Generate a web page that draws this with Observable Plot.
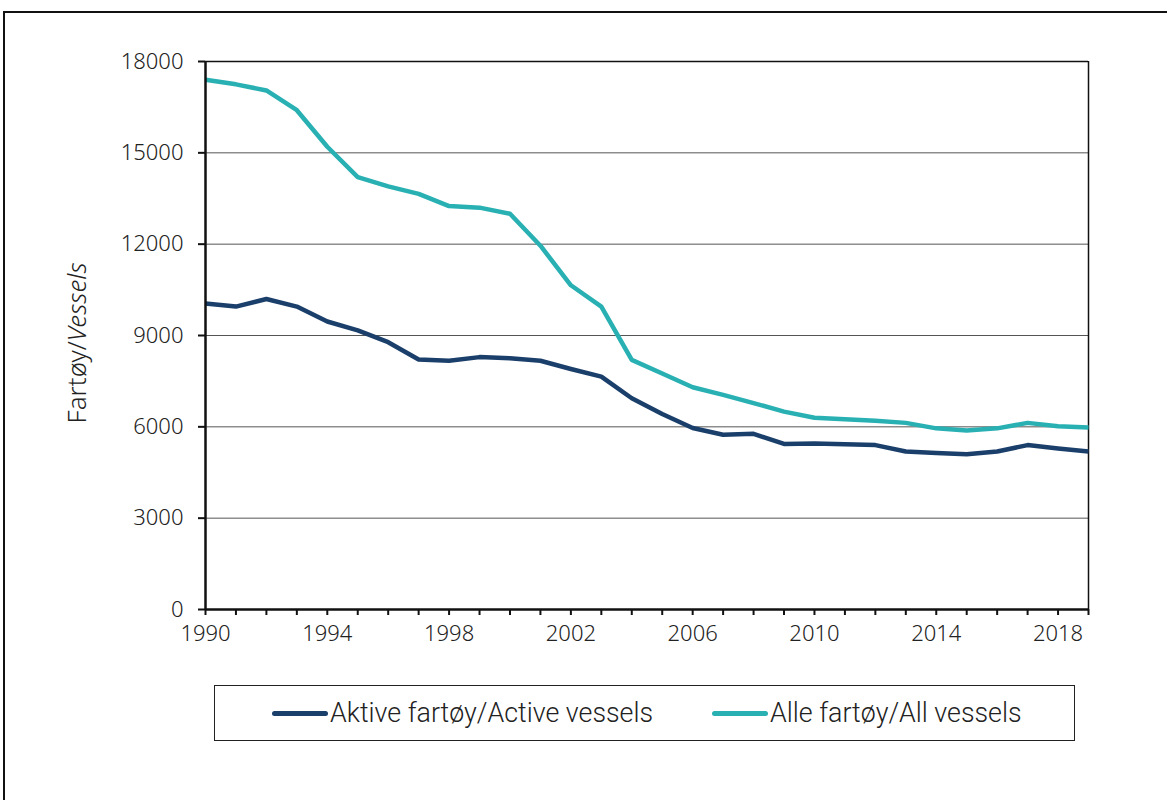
<!DOCTYPE html>
<html>
<head>
<meta charset="utf-8">
<script src="https://cdn.jsdelivr.net/npm/d3@7"></script>
<script src="https://cdn.jsdelivr.net/npm/@observablehq/plot@0.6"></script>
<style>
  html, body { margin: 0; padding: 0; background: #fff; width: 1167px; height: 800px; overflow: hidden; }
  #frame { position: absolute; left: 3px; top: 11px; width: 1300px; height: 900px; border-left: 2px solid #111; border-top: 2px solid #111; }
  #chart { position: absolute; left: 0; top: 0; }
  #ylabel { position: absolute; left: 76px; top: 343px; transform: translate(-50%, -50%) rotate(-90deg); font-family: "Noto Sans", sans-serif; font-size: 26px; font-weight: 300; color: #222; white-space: nowrap; }
  #legend { position: absolute; left: 214px; top: 685px; width: 861px; height: 56px; border: 1px solid #222; box-sizing: border-box; font-family: Roboto, sans-serif; font-size: 26.8px; font-weight: 300; color: #222; }
  .item { position: absolute; top: 0; height: 54px; display: flex; align-items: center; white-space: nowrap; }
  .sw { display: inline-block; width: 56px; height: 5px; border-radius: 3px; margin-right: 2px; }
</style>
</head>
<body>
<div id="frame"></div>
<div id="chart"></div>
<div id="ylabel">Fartøy/<i>Vessels</i></div>
<div id="legend"></div>
<script>
const years = [1990,1991,1992,1993,1994,1995,1996,1997,1998,1999,2000,2001,2002,2003,2004,2005,2006,2007,2008,2009,2010,2011,2012,2013,2014,2015,2016,2017,2018,2019];
const activeVessels = [10050,9950,10200,9950,9460,9170,8780,8210,8170,8290,8250,8170,7900,7650,6940,6420,5960,5740,5770,5440,5450,5430,5400,5190,5140,5100,5190,5400,5290,5190];
const allVessels = [17400,17250,17050,16400,15200,14200,13900,13650,13250,13200,13000,11950,10650,9950,8200,7750,7300,7050,6780,6500,6300,6250,6200,6130,5950,5880,5950,6130,6020,5980];
const yTicks = [0,3000,6000,9000,12000,15000,18000];
const xLabelYears = [1990,1994,1998,2002,2006,2010,2014,2018];
const seriesNames = ["Aktive fartøy/Active vessels", "Alle fartøy/All vessels"];
const seriesColors = ["#1b3f6b", "#29b0b3"];

const rows = [];
years.forEach((y, i) => {
  rows.push({year: y, value: activeVessels[i], series: seriesNames[0]});
  rows.push({year: y, value: allVessels[i], series: seriesNames[1]});
});

const chart = Plot.plot({
  width: 1167,
  height: 670,
  marginLeft: 205,
  marginRight: 79,
  marginTop: 61,
  marginBottom: 61,
  style: {fontFamily: "'Noto Sans', sans-serif", fontSize: "22px", fontWeight: 300, color: "#222", background: "transparent"},
  x: {domain: [1990, 2019]},
  y: {domain: [0, 18000]},
  color: {domain: seriesNames, range: seriesColors},
  marks: [
    Plot.ruleY(yTicks.filter(d => d > 0 && d < 18000), {stroke: "#555", strokeWidth: 1}),
    Plot.ruleY([18000], {stroke: "#111", strokeWidth: 1.5}),
    Plot.ruleX([2019], {stroke: "#111", strokeWidth: 1.5}),
    Plot.line(rows, {x: "year", y: "value", stroke: "series", z: "series", strokeWidth: 4.5, strokeLinejoin: "round", strokeLinecap: "butt"}),
    Plot.axisY({ticks: yTicks, tickSize: 7, tickPadding: 15, tickFormat: d => String(d), label: null, stroke: "#111", strokeWidth: 2, fill: "#222", fontSize: 22}),
    Plot.axisX({ticks: years, tickSize: 6, tickPadding: 10, tickFormat: d => xLabelYears.includes(d) ? String(d) : "", label: null, stroke: "#111", strokeWidth: 2, fill: "#222", fontSize: 22}),
    Plot.ruleX([1990], {stroke: "#111", strokeWidth: 2.5}),
    Plot.ruleY([0], {stroke: "#111", strokeWidth: 2.5})
  ]
});
document.getElementById("chart").appendChild(chart);

const legend = document.getElementById("legend");
const legendLeft = [57, 497];
seriesNames.forEach((name, i) => {
  const item = document.createElement("div");
  item.className = "item";
  item.style.left = legendLeft[i] + "px";
  const sw = document.createElement("span");
  sw.className = "sw";
  sw.style.background = seriesColors[i];
  const t = document.createElement("span");
  t.textContent = name;
  item.appendChild(sw);
  item.appendChild(t);
  legend.appendChild(item);
});
</script>
</body>
</html>
